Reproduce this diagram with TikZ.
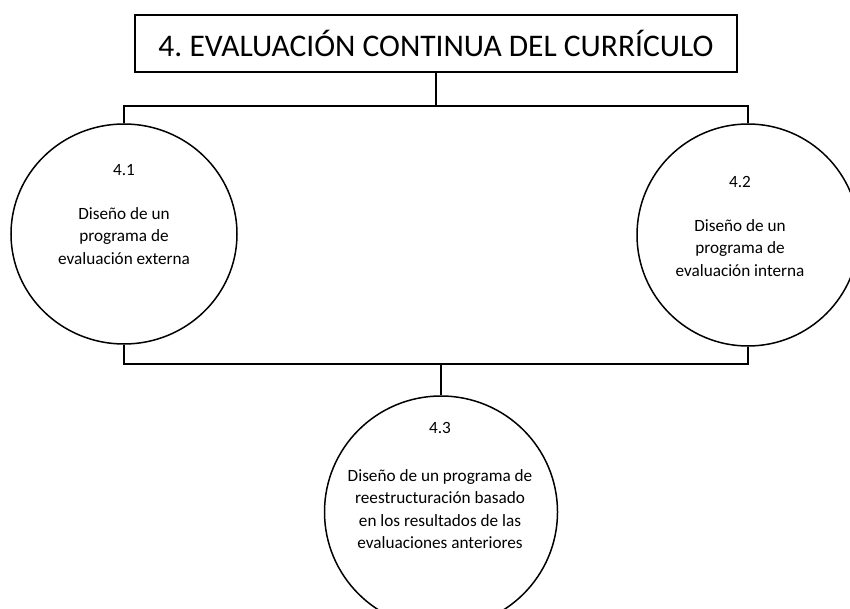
\documentclass[tikz,border=0pt]{standalone}
\usepackage{fontspec}
\setmainfont{Carlito}
\usetikzlibrary{shapes.geometric}
\frenchspacing
\tikzset{
  conn/.style={draw=black, line width=1.5pt},
  bubble/.style={draw=black, line width=1.5pt, ellipse, inner sep=0pt},
  titlebox/.style={draw=black, line width=1.5pt, rectangle, inner sep=0pt, font=\fontsize{31.5}{38}\selectfont},
  bodytext/.style={align=center, inner sep=0pt, font=\fontsize{17.2}{22.5}\selectfont}
}
\begin{document}
\begin{tikzpicture}[x=1pt,y=-1pt]
\clip (0,0) rectangle (850,609);
\fill[white] (0,0) rectangle (850,609);
% title
\node[titlebox, minimum width=602pt, minimum height=57pt] (T) at (436,43.5) {4. EVALUACIÓN CONTINUA DEL CURRÍCULO};
% bubbles
\node[bubble, minimum width=226pt, minimum height=220pt] (L) at (124,234) {};
\node[bubble, minimum width=222pt, minimum height=222pt] (R) at (748,235) {};
\node[bubble, minimum width=233pt, minimum height=232pt] (B) at (441,512) {};
% texts
\node[bodytext] (Lnum) at (124,170) {4.1};
\node[bodytext] (Ltxt) at (124,236) {Diseño de un\\programa de\\evaluación externa};
\node[bodytext] (Rnum) at (740,182) {4.2};
\node[bodytext] (Rtxt) at (740,248) {Diseño de un\\programa de\\evaluación interna};
\node[bodytext] (Bnum) at (440,428) {4.3};
\node[bodytext] (Btxt) at (440,509) {Diseño de un programa de\\reestructuración basado\\en los resultados de las\\evaluaciones anteriores};
% connectors
\coordinate (topbar) at (0,106);
\coordinate (botbar) at (0,364);
\draw[conn] (T.south) -- (T.south |- topbar);
\draw[conn] (L.north) -- (L.north |- topbar) -- (R.north |- topbar) -- (R.north);
\draw[conn] (L.south) -- (L.south |- botbar) -- (R.south |- botbar) -- (R.south);
\draw[conn] (B.north) -- (B.north |- botbar);
\end{tikzpicture}
\end{document}
